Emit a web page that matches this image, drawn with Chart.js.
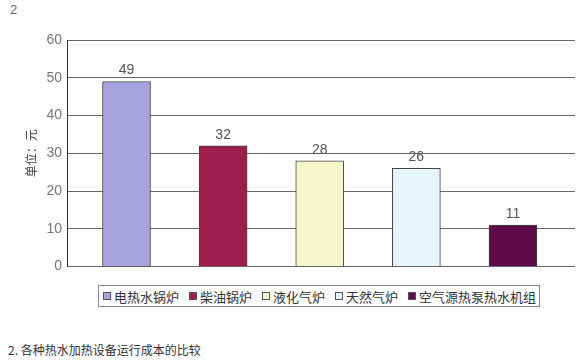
<!DOCTYPE html>
<html>
<head>
<meta charset="utf-8">
<script src="https://cdn.jsdelivr.net/npm/chart.js@4"></script>
<style>
  body { margin: 0; background: #fff; width: 581px; height: 363px; position: relative; overflow: hidden;
         font-family: "Liberation Sans", "Noto Sans CJK SC", sans-serif; }
  #fig-no { position: absolute; left: 10px; top: 2px; font-size: 13px; color: #666; }
  #wrap { position: absolute; left: 0; top: 0; width: 581px; height: 280px; }
  #legend { position: absolute; left: 98px; top: 285px; height: 20px; padding: 0 3px 0 4px;
            border: 1px solid #888; display: flex; align-items: center; white-space: nowrap;
            font-family: "Noto Sans CJK SC", sans-serif; font-size: 13px; color: #333; }
  #legend span.item { display: inline-flex; align-items: center; margin-right: 10px; }
  #legend span.item:last-child { margin-right: 0; }
  #legend i { display: inline-block; width: 6px; height: 6px; border: 1px solid #555; margin-right: 3px; }
  #caption { position: absolute; left: 8px; top: 341px; font-size: 12px; color: #333;
             font-family: "Noto Sans CJK SC", sans-serif; }
</style>
</head>
<body>
<div id="fig-no">2</div>
<div id="wrap"><canvas id="costChart"></canvas></div>
<div id="legend"></div>
<div id="caption">2. 各种热水加热设备运行成本的比较</div>
<script>
// running cost of each hot-water heater
const categories = ['电热水锅炉', '柴油锅炉', '液化气炉', '天然气炉', '空气源热泵热水机组'];
const costs = [49, 32, 28, 26, 11];
const barColors = ['#a7a1de', '#9d1d4d', '#f6f6cc', '#e4f6fa', '#5d0b48'];
const yTicks = [0, 10, 20, 30, 40, 50, 60];

// value labels above each bar
const valueLabels = {
    id: 'valueLabels',
    afterDatasetsDraw(chart) {
        const ctx = chart.ctx;
        const meta = chart.getDatasetMeta(0);
        ctx.save();
        ctx.font = '14px "Liberation Sans", sans-serif';
        ctx.fillStyle = '#555';
        ctx.textAlign = 'center';
        ctx.textBaseline = 'bottom';
        meta.data.forEach((bar, i) => {
            ctx.fillText(String(costs[i]), bar.x, bar.y - 4);
        });
        ctx.restore();
    }
};

const chart = new Chart(document.getElementById('costChart'), {
    type: 'bar',
    data: {
        datasets: [{
            data: categories.map((c, i) => ({ x: i, y: costs[i] })),
            backgroundColor: barColors,
            borderColor: '#444',
            borderWidth: 1,
            barThickness: 48
        }]
    },
    options: {
        responsive: true,
        maintainAspectRatio: false,
        animation: false,
        layout: { padding: { left: 20, right: 6, top: 40, bottom: 12 } },
        plugins: {
            legend: { display: false },
            tooltip: { enabled: false }
        },
        scales: {
            x: {
                type: 'linear',
                offset: false,
                min: -0.616,
                max: 4.642,
                display: false
            },
            y: {
                min: 0,
                max: 60,
                afterBuildTicks: (scale) => { scale.ticks = yTicks.map(v => ({ value: v })); },
                afterFit: (scale) => { scale.width = 47; },
                ticks: {
                    padding: 5,
                    color: '#777',
                    font: { family: '"Liberation Sans", sans-serif', size: 14 }
                },
                grid: { color: '#666', lineWidth: 1, drawTicks: false },
                border: { color: '#333', width: 1 },
                title: {
                    display: true,
                    text: '单位：元',
                    color: '#444',
                    padding: { top: 4, bottom: 0 },
                    font: { family: '"Noto Sans CJK SC", sans-serif', size: 12 }
                }
            }
        }
    },
    plugins: [valueLabels]
});

// html legend built from the same arrays
const legendEl = document.getElementById('legend');
categories.forEach((name, i) => {
    const item = document.createElement('span');
    item.className = 'item';
    const box = document.createElement('i');
    box.style.background = barColors[i];
    item.appendChild(box);
    item.appendChild(document.createTextNode(name));
    legendEl.appendChild(item);
});
</script>
</body>
</html>
